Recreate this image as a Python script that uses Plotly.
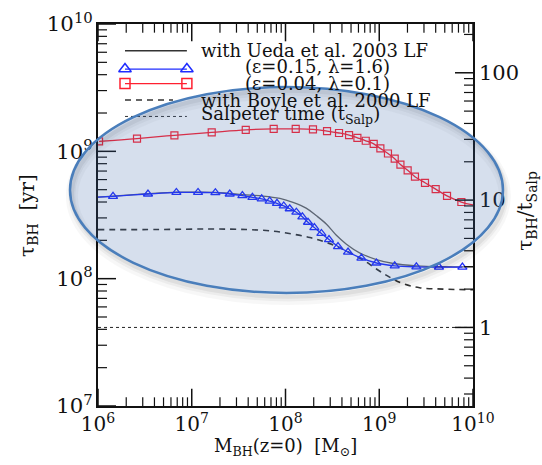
import math
import plotly.graph_objects as go

# Black-hole growth time tau_BH versus present-day black-hole mass
# (log10 values; M in solar masses, tau in years)

# eps = 0.04, lambda = 0.1 model (red squares)
red_logm = [6.011, 6.416, 6.815, 7.213, 7.576, 7.874, 8.109, 8.293, 8.443, 8.571,
            8.678, 8.767, 8.856, 8.941, 9.012, 9.093, 9.165, 9.226, 9.303, 9.381,
            9.488, 9.602, 9.723, 9.876]
red_logtau = [9.078, 9.100, 9.126, 9.149, 9.169, 9.176, 9.176, 9.172, 9.159, 9.144,
              9.128, 9.106, 9.083, 9.058, 9.023, 8.983, 8.942, 8.896, 8.851, 8.801,
              8.753, 8.703, 8.650, 8.602]
red_end_logm = [10.0]
red_end_logtau = [8.579]

# eps = 0.15, lambda = 1.6 model (blue triangles)
blue_logm = [6.160, 6.533, 6.836, 7.067, 7.252, 7.405, 7.540, 7.647, 7.746, 7.831,
             7.909, 7.981, 8.045, 8.116, 8.180, 8.240, 8.308, 8.383, 8.464, 8.560,
             8.667, 8.810, 8.970, 9.165, 9.396, 9.637, 9.887]
blue_logtau = [8.647, 8.665, 8.677, 8.677, 8.675, 8.665, 8.652, 8.639, 8.627, 8.609,
               8.592, 8.571, 8.549, 8.522, 8.486, 8.443, 8.401, 8.355, 8.307, 8.252,
               8.209, 8.161, 8.123, 8.101, 8.093, 8.091, 8.091]
blue_start_logm = [6.0]
blue_start_logtau = [8.640]

# Ueda et al. 2003 luminosity function (solid grey)
ueda_logm = [6.0, 6.16, 6.53, 6.84, 7.07, 7.25, 7.40, 7.54, 7.76, 7.94, 8.08, 8.22,
             8.33, 8.44, 8.54, 8.65, 8.79, 8.97, 9.15, 9.40, 9.64, 10.0]
ueda_logtau = [8.640, 8.649, 8.667, 8.679, 8.680, 8.678, 8.670, 8.660, 8.649, 8.630,
               8.599, 8.554, 8.494, 8.426, 8.343, 8.271, 8.203, 8.150, 8.119, 8.101,
               8.094, 8.093]

# Boyle et al. 2000 luminosity function (dashed)
boyle_logm = [6.0, 6.66, 7.19, 7.58, 7.87, 8.08, 8.26, 8.40, 8.54, 8.68, 8.83, 8.97,
              9.11, 9.25, 9.43, 9.68, 10.0]
boyle_logtau = [8.385, 8.386, 8.390, 8.386, 8.373, 8.350, 8.323, 8.293, 8.256, 8.206,
                8.146, 8.076, 8.012, 7.962, 7.929, 7.918, 7.913]

# Salpeter time in years
t_salp = 4.14e7
log_t_salp = 7.617
mass_range = [1e6, 1e10]
log_mass_range = [6 - 1e-4, 10 + 1e-4]
log_tau_range = [7 - 1e-4, 10 + 1e-4]

legend_labels = ["with Ueda et al. 2003 LF", "(ε=0.15, λ=1.6)", "(ε=0.04, λ=0.1)",
                 "with Boyle et al. 2000 LF", "Salpeter time (t<sub>Salp</sub>)"]


def p10(v):
    return [10 ** a for a in v]


def minor_ticks(lo, hi):
    """log10 of the 2..9 x 10^n tick positions inside [lo, hi]."""
    out = []
    for d in range(math.floor(lo), math.ceil(hi) + 1):
        for k in range(2, 10):
            v = d + math.log10(k)
            if lo < v < hi:
                out.append(v)
    return out


def major_ticks(lo, hi):
    return [d for d in range(math.floor(lo), math.ceil(hi) + 1) if lo <= d <= hi]


FONT = "DejaVu Serif"
W, H = 542, 465
M_L, M_R, M_T, M_B = 98, 69, 9, 59
PLOT_W, PLOT_H = W - M_L - M_R, H - M_T - M_B

fig = go.Figure()

# Salpeter time
fig.add_trace(go.Scatter(x=mass_range, y=[t_salp, t_salp], mode="lines",
                         line=dict(color="#222", width=1, dash="dot"), showlegend=False))
# Boyle LF
fig.add_trace(go.Scatter(x=p10(boyle_logm), y=p10(boyle_logtau), mode="lines",
                         line=dict(color="#333", width=1.6, dash="6px,5px", shape="spline"),
                         showlegend=False))
# Ueda LF
fig.add_trace(go.Scatter(x=p10(ueda_logm), y=p10(ueda_logtau), mode="lines",
                         line=dict(color="#666", width=1.3, shape="spline"), showlegend=False))
# blue model
fig.add_trace(go.Scatter(x=p10(blue_start_logm + blue_logm), y=p10(blue_start_logtau + blue_logtau),
                         mode="lines", line=dict(color="#1f2cff", width=1.3, shape="spline"),
                         showlegend=False))
fig.add_trace(go.Scatter(x=p10(blue_logm), y=p10(blue_logtau), mode="markers",
                         marker=dict(symbol="triangle-up-open", size=8, color="#1f2cff",
                                     line=dict(width=1.3)),
                         showlegend=False))
# red model
fig.add_trace(go.Scatter(x=p10(red_logm + red_end_logm), y=p10(red_logtau + red_end_logtau),
                         mode="lines", line=dict(color="#ff2030", width=1.3, shape="spline"),
                         showlegend=False))
fig.add_trace(go.Scatter(x=p10(red_logm), y=p10(red_logtau), mode="markers",
                         marker=dict(symbol="square-open", size=7, color="#ff2030",
                                     line=dict(width=1.2)),
                         showlegend=False))

# invisible trace anchoring the right-hand axis (tau / t_Salp)
fig.add_trace(go.Scatter(x=mass_range, y=[1, 1], yaxis="y2", mode="lines",
                         line=dict(width=0), hoverinfo="skip", showlegend=False))

# ---- inward tick marks, drawn on a frame-fraction overlay axis (x3/y3) ----
right_range = [r - log_t_salp for r in log_tau_range]


def frac(v, rng):
    return (v - rng[0]) / (rng[1] - rng[0])


def tick_segments(length_px, x_vals, y_left_vals, y_right_vals):
    xs, ys = [], []
    dy = length_px / PLOT_H
    dx = length_px / PLOT_W
    for v in x_vals:
        f = frac(v, log_mass_range)
        xs += [f, f, None, f, f, None]
        ys += [0, dy, None, 1, 1 - dy, None]
    for v in y_left_vals:
        f = frac(v, log_tau_range)
        xs += [0, dx, None]
        ys += [f, f, None]
    for v in y_right_vals:
        f = frac(v, right_range)
        xs += [1, 1 - dx, None]
        ys += [f, f, None]
    return xs, ys


for length, width, pick in ((18, 1.5, major_ticks), (9, 1.2, minor_ticks)):
    tx, ty = tick_segments(length, pick(*log_mass_range), pick(*log_tau_range),
                           pick(*right_range))
    fig.add_trace(go.Scatter(x=tx, y=ty, xaxis="x3", yaxis="y3", mode="lines",
                             line=dict(color="#111", width=width), hoverinfo="skip",
                             connectgaps=False, showlegend=False))

# legend samples on the same overlay axis
lx = [0.072, 0.237]
leg_y = [0.930, 0.882, 0.844, 0.801, 0.758]
fig.add_trace(go.Scatter(x=lx, y=[leg_y[0]] * 2, xaxis="x3", yaxis="y3", mode="lines",
                         line=dict(color="#333", width=1.6), showlegend=False))
fig.add_trace(go.Scatter(x=lx, y=[leg_y[1]] * 2, xaxis="x3", yaxis="y3", mode="lines+markers",
                         line=dict(color="#1f2cff", width=1.3),
                         marker=dict(symbol="triangle-up-open", size=11, color="#1f2cff",
                                     line=dict(width=1.5)), showlegend=False))
fig.add_trace(go.Scatter(x=lx, y=[leg_y[2]] * 2, xaxis="x3", yaxis="y3", mode="lines+markers",
                         line=dict(color="#ff2030", width=1.3),
                         marker=dict(symbol="square-open", size=10, color="#ff2030",
                                     line=dict(width=1.5)), showlegend=False))
fig.add_trace(go.Scatter(x=[0.072, 0.200], y=[leg_y[3]] * 2, xaxis="x3", yaxis="y3", mode="lines",
                         line=dict(color="#333", width=1.6, dash="6px,5px"), showlegend=False))
fig.add_trace(go.Scatter(x=lx, y=[leg_y[4]] * 2, xaxis="x3", yaxis="y3", mode="lines",
                         line=dict(color="#333", width=1, dash="dot"), showlegend=False))

annotations = []
text_pos = [(0.269, 0.930), (0.387, 0.888), (0.387, 0.845), (0.269, 0.801), (0.269, 0.761)]
for (tx, ty), label in zip(text_pos, legend_labels):
    annotations.append(dict(x=tx, y=ty, xref="paper", yref="paper", text=label,
                            showarrow=False, xanchor="left", yanchor="middle",
                            font=dict(family=FONT, size=18, color="#111")))

# axis titles
annotations += [
    dict(x=-0.187, y=0.50, xref="paper", yref="paper", text="τ<sub>BH</sub>  [yr]",
         textangle=-90, showarrow=False, xanchor="center", yanchor="middle",
         font=dict(family=FONT, size=20, color="#111")),
    dict(x=1.143, y=0.51, xref="paper", yref="paper", text="τ<sub>BH</sub>/t<sub>Salp</sub>",
         textangle=-90, showarrow=False, xanchor="center", yanchor="middle",
         font=dict(family=FONT, size=20, color="#111")),
    dict(x=0.50, y=-0.108, xref="paper", yref="paper", text="M<sub>BH</sub>(z=0)  [M<sub>⊙</sub>]",
         showarrow=False, xanchor="center", yanchor="middle",
         font=dict(family=FONT, size=18, color="#111")),
]

# highlighting ellipse with a soft drop shadow
shapes = []
ex0, ex1, ey0, ey1 = -0.0747, 1.080, 0.296, 0.835
for w, a, dy in [(12, 0.03, -0.016), (7, 0.045, -0.013), (4, 0.06, -0.010)]:
    shapes.append(dict(type="circle", xref="paper", yref="paper", layer="above",
                       x0=ex0 + 0.005, x1=ex1 + 0.005, y0=ey0 + dy, y1=ey1 + dy,
                       line=dict(color="rgba(0,0,0,%g)" % a, width=w),
                       fillcolor="rgba(0,0,0,0)"))
shapes.append(dict(type="circle", xref="paper", yref="paper", layer="above",
                   x0=ex0, x1=ex1, y0=ey0, y1=ey1,
                   line=dict(color="#4a7ebb", width=2.5),
                   fillcolor="rgba(60,105,170,0.21)"))

major = dict(type="log", showgrid=False, zeroline=False, showline=True,
             linecolor="#111", linewidth=1.6, ticks="", tickmode="linear",
             tick0=0, dtick=1, ticklabeloverflow="allow")

fig.update_layout(
    width=W, height=H,
    margin=dict(l=M_L, r=M_R, t=M_T, b=M_B),
    paper_bgcolor="white", plot_bgcolor="white",
    xaxis=dict(major, range=log_mass_range, exponentformat="power", mirror=True,
               tickfont=dict(family=FONT, size=16, color="#111")),
    yaxis=dict(major, range=log_tau_range, exponentformat="power",
               tickfont=dict(family=FONT, size=17, color="#111")),
    yaxis2=dict(major, overlaying="y", side="right", exponentformat="none",
                range=right_range, tickfont=dict(family=FONT, size=21, color="#111")),
    xaxis3=dict(overlaying="x", range=[0, 1], visible=False),
    yaxis3=dict(overlaying="y", range=[0, 1], visible=False),
    annotations=annotations,
    shapes=shapes,
)

fig.write_html("out.html")
